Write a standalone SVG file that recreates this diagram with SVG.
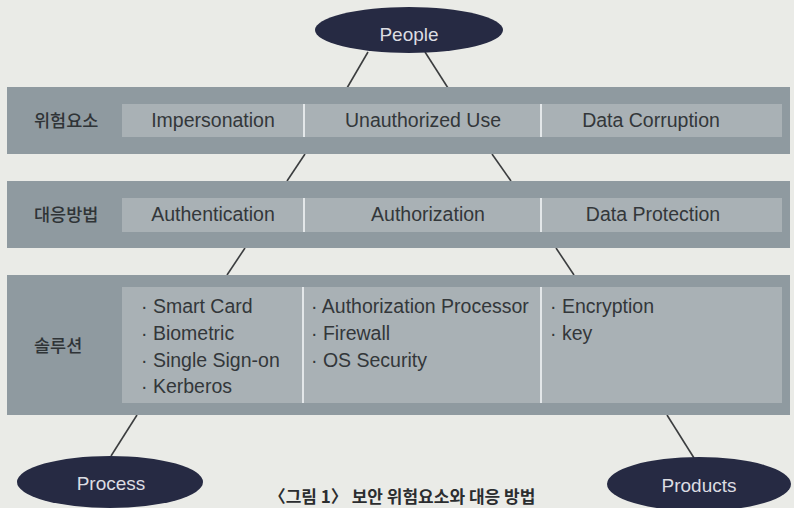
<svg xmlns="http://www.w3.org/2000/svg" width="794" height="508" viewBox="0 0 794 508">
  <style>
    .band { fill: #8f9aa0; }
    .cell { fill: #a9b1b5; }
    .divider { stroke: #e3e7e9; stroke-width: 2; }
    .label { font-family: "Noto Sans CJK KR", "Noto Sans", sans-serif; font-size: 17.5px; font-weight: 500; fill: #2f3437; }
    .item { font-family: "Liberation Sans", Arial, sans-serif; font-size: 19.5px; fill: #33373a; }
    .oval { fill: #262a43; }
    .oval-text { font-family: "Liberation Sans", Arial, sans-serif; font-size: 19px; fill: #dcdde2; text-anchor: middle; }
    .link { stroke: #3b3d3f; stroke-width: 1.6; fill: none; }
    .caption { font-family: "Noto Sans CJK KR", sans-serif; font-size: 17px; font-weight: bold; fill: #2b2d2f; text-anchor: middle; }
  </style>

  <rect width="794" height="508" fill="#eaebe7"/>

  <!-- connectors -->
  <g id="connectors">
    <line class="link" x1="368" y1="52" x2="347" y2="88"/>
    <line class="link" x1="425" y1="52" x2="448" y2="88"/>
    <line class="link" x1="305" y1="154" x2="287" y2="181"/>
    <line class="link" x1="492" y1="154" x2="511" y2="181"/>
    <line class="link" x1="245" y1="248" x2="227" y2="275"/>
    <line class="link" x1="556" y1="248" x2="574" y2="275"/>
    <line class="link" x1="137" y1="415" x2="111" y2="456"/>
    <line class="link" x1="667" y1="415" x2="694" y2="458"/>
  </g>

  <!-- threats row -->
  <g id="threats">
    <rect class="band" x="7" y="87" width="783" height="67"/>
    <rect class="cell" x="122" y="104" width="660" height="33"/>
    <line class="divider" x1="304" y1="104" x2="304" y2="137"/>
    <line class="divider" x1="541" y1="104" x2="541" y2="137"/>
    <text class="label" x="34" y="127">위험요소</text>
    <text class="item" x="213" y="127" text-anchor="middle">Impersonation</text>
    <text class="item" x="423" y="127" text-anchor="middle">Unauthorized Use</text>
    <text class="item" x="651" y="127" text-anchor="middle">Data Corruption</text>
  </g>

  <!-- countermeasures row -->
  <g id="countermeasures">
    <rect class="band" x="7" y="181" width="783" height="67"/>
    <rect class="cell" x="122" y="198" width="660" height="34"/>
    <line class="divider" x1="304" y1="198" x2="304" y2="232"/>
    <line class="divider" x1="541" y1="198" x2="541" y2="232"/>
    <text class="label" x="34" y="221">대응방법</text>
    <text class="item" x="213" y="221" text-anchor="middle">Authentication</text>
    <text class="item" x="428" y="221" text-anchor="middle">Authorization</text>
    <text class="item" x="653" y="221" text-anchor="middle">Data Protection</text>
  </g>

  <!-- solutions row -->
  <g id="solutions">
    <rect class="band" x="7" y="275" width="783" height="140"/>
    <rect class="cell" x="122" y="287" width="660" height="116"/>
    <line class="divider" x1="303" y1="287" x2="303" y2="403"/>
    <line class="divider" x1="541" y1="287" x2="541" y2="403"/>
    <text class="label" x="34" y="352">솔루션</text>
    <text class="item" x="141" y="313">· Smart Card</text>
    <text class="item" x="141" y="340">· Biometric</text>
    <text class="item" x="141" y="367">· Single Sign-on</text>
    <text class="item" x="141" y="393">· Kerberos</text>
    <text class="item" x="311" y="313">· Authorization Processor</text>
    <text class="item" x="311" y="340">· Firewall</text>
    <text class="item" x="311" y="367">· OS Security</text>
    <text class="item" x="550" y="313">· Encryption</text>
    <text class="item" x="550" y="340">· key</text>
  </g>

  <!-- ovals -->
  <g id="people">
    <ellipse class="oval" cx="409" cy="30" rx="94" ry="23"/>
    <text class="oval-text" x="409" y="41">People</text>
  </g>
  <g id="process">
    <ellipse class="oval" cx="110" cy="482" rx="93" ry="26"/>
    <text class="oval-text" x="111" y="490">Process</text>
  </g>
  <g id="products">
    <ellipse class="oval" cx="699" cy="484" rx="92" ry="27"/>
    <text class="oval-text" x="699" y="492">Products</text>
  </g>

  <text class="caption" x="402" y="503">〈그림 1〉 보안 위험요소와 대응 방법</text>
</svg>
